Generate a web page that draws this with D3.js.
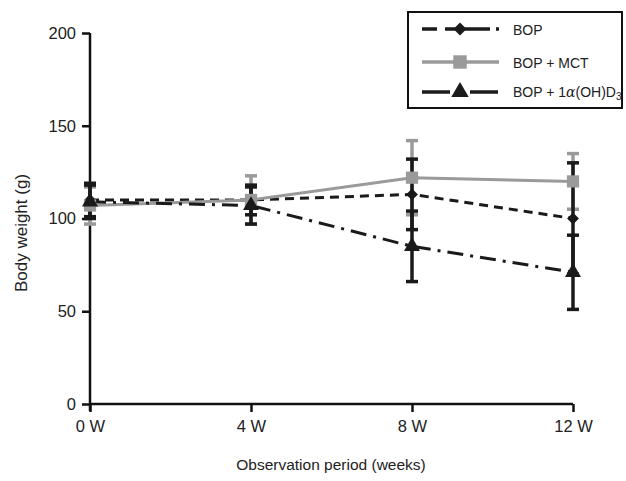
<!DOCTYPE html>
<html>
<head>
<meta charset="utf-8">
<script src="https://cdn.jsdelivr.net/npm/d3@7"></script>
<style>
body { margin: 0; background: #fff; }
text { font-family: "Liberation Sans", Arial, sans-serif; fill: #222; }
</style>
</head>
<body>
<div id="plot"></div>
<script>
// chart data
const weeks = ["0 W", "4 W", "8 W", "12 W"];
const bop = [110, 110, 113, 100];
const bopErr = [9, 8, 19, 30];
const mct = [107, 110, 122, 120];
const mctErr = [10, 13, 20, 15];
const vitd = [109, 107, 85, 71];
const vitdErr = [9, 10, 19, 20];
const yTicks = [0, 50, 100, 150, 200];

const FRAME_WIDTH = 626;
const FRAME_HEIGHT = 481;

const svg = d3.select("#plot")
  .append("svg")
    .attr("width", FRAME_WIDTH)
    .attr("height", FRAME_HEIGHT);

const x = d3.scalePoint().domain(weeks).range([90, 573]);
const y = d3.scaleLinear().domain([0, 200]).range([404, 33]);

// axes
const yAxis = svg.append("g")
  .attr("transform", "translate(90,0)")
  .call(d3.axisLeft(y).tickValues(yTicks).tickSize(8).tickPadding(6));
yAxis.select(".domain").remove();
yAxis.selectAll("line").attr("stroke", "#111").attr("stroke-width", 2.5);
yAxis.selectAll("text").style("font-size", "16.5px");
svg.append("line")
  .attr("x1", 90).attr("x2", 90)
  .attr("y1", y(200)).attr("y2", y(0) + 7)
  .attr("stroke", "#111").attr("stroke-width", 2.5);

const xAxis = svg.append("g")
  .attr("transform", "translate(0,404)")
  .call(d3.axisBottom(x).tickSize(8).tickPadding(8));
xAxis.select(".domain").remove();
xAxis.selectAll("line").attr("stroke", "#111").attr("stroke-width", 2.5);
xAxis.selectAll("text").style("font-size", "16.5px");
svg.append("line")
  .attr("x1", 90).attr("x2", 573)
  .attr("y1", 404).attr("y2", 404)
  .attr("stroke", "#111").attr("stroke-width", 2.5);

// axis titles
svg.append("text")
  .attr("x", 331).attr("y", 470)
  .attr("text-anchor", "middle")
  .style("font-size", "15.5px")
  .text("Observation period (weeks)");

svg.append("text")
  .attr("transform", "translate(27,233) rotate(-90)")
  .attr("text-anchor", "middle")
  .style("font-size", "17px")
  .text("Body weight (g)");

const series = [
  { name: "bop", vals: bop, err: bopErr, color: "#1a1a1a", dash: "9,6", legDash: "15,8,45,6,6", shape: d3.symbolSquare, rot: 45, size: 70 },
  { name: "mct", vals: mct, err: mctErr, color: "#9a9a9a", dash: null, legDash: null, shape: d3.symbolSquare, rot: 0, size: 150 },
  { name: "vitd", vals: vitd, err: vitdErr, color: "#1a1a1a", dash: "16,7,3,7", legDash: "28,20,28", shape: d3.symbolTriangle, rot: 0, size: 110 }
];

// error bars (grey first, black on top)
function drawErr(s) {
  const g = svg.append("g").attr("stroke", s.color).attr("stroke-width", 3.5);
  s.vals.forEach((v, i) => {
    const cx = x(weeks[i]);
    g.append("line").attr("x1", cx).attr("x2", cx)
      .attr("y1", y(v + s.err[i])).attr("y2", y(v - s.err[i]));
    [v + s.err[i], v - s.err[i]].forEach(e => {
      g.append("line").attr("x1", cx - 6).attr("x2", cx + 6)
        .attr("y1", y(e)).attr("y2", y(e));
    });
  });
}
drawErr(series[1]);
drawErr(series[0]);
drawErr(series[2]);

const line = d3.line().x((d, i) => x(weeks[i])).y(d => y(d));

series.forEach(s => {
  svg.append("path")
    .datum(s.vals)
    .attr("d", line)
    .attr("fill", "none")
    .attr("stroke", s.color)
    .attr("stroke-width", 3)
    .attr("stroke-dasharray", s.dash);
});

series.forEach(s => {
  svg.selectAll(".m-" + s.name)
    .data(s.vals)
    .enter().append("path")
      .attr("class", "m-" + s.name)
      .attr("transform", (d, i) => "translate(" + x(weeks[i]) + "," + y(d) + ") rotate(" + s.rot + ")")
      .attr("d", d3.symbol().type(s.shape).size(s.size))
      .attr("fill", s.color);
});

// legend
const legend = svg.append("g");
legend.append("rect")
  .attr("x", 408).attr("y", 12)
  .attr("width", 214).attr("height", 96)
  .attr("fill", "#fff").attr("stroke", "#111").attr("stroke-width", 2);

const legendRows = [29, 62, 92];
series.forEach((s, i) => {
  const ly = legendRows[i];
  legend.append("line")
    .attr("x1", 422).attr("x2", 499)
    .attr("y1", ly).attr("y2", ly)
    .attr("stroke", s.color).attr("stroke-width", 3.5)
    .attr("stroke-dasharray", s.legDash);
  legend.append("path")
    .attr("transform", "translate(460," + ly + ") rotate(" + s.rot + ")")
    .attr("d", d3.symbol().type(s.shape).size(s.size * 1.2))
    .attr("fill", s.color);
});

legend.append("text").attr("x", 513).attr("y", 35).style("font-size", "14px").text("BOP");
legend.append("text").attr("x", 513).attr("y", 68).style("font-size", "14px").text("BOP + MCT");
const lt = legend.append("text").attr("x", 513).attr("y", 97).style("font-size", "14px");
lt.append("tspan").text("BOP + 1");
lt.append("tspan").style("font-style", "italic").style("font-family", "'DejaVu Serif', serif").text("α");
lt.append("tspan").text("(OH)D");
lt.append("tspan").attr("dy", 3).style("font-size", "10px").text("3");
</script>
</body>
</html>
